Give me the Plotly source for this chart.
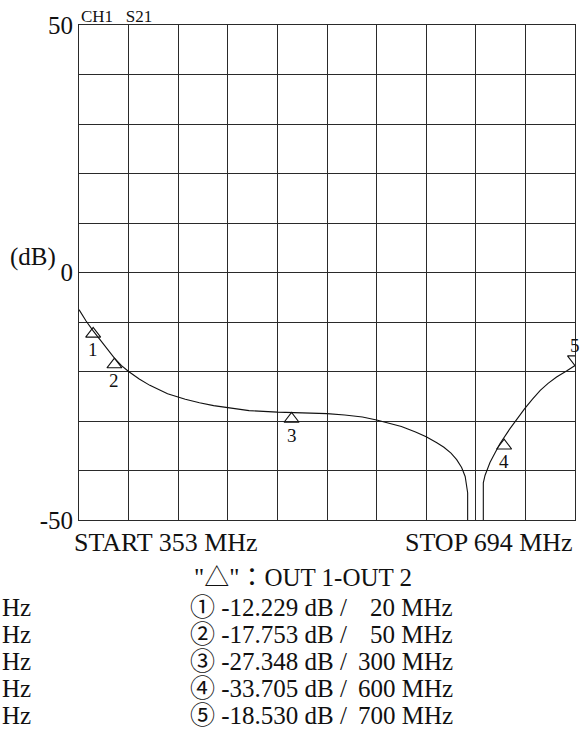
import plotly.graph_objects as go

# ---- data ----
freq_mhz = [0, 10, 20, 30, 40, 50, 60, 70, 85, 100, 125, 150, 170, 190, 210, 240,
            280, 320, 350, 375, 400, 420, 440, 455, 475, 490, 505, 515, 525, 533,
            540, 545, 548.5, 548.5, 570.6, 570.6, 573, 576, 580, 585, 594, 608,
            620, 629, 640, 651, 662, 674, 688, 700]
s21_db = [-7.5, -9.8, -11.8, -13.7, -15.6, -17.3, -18.8, -20.0, -21.5, -22.8, -24.5,
          -25.6, -26.3, -26.9, -27.3, -27.9, -28.2, -28.4, -28.5, -28.8, -29.2,
          -29.8, -30.5, -31.1, -32.2, -33.2, -34.4, -35.3, -36.5, -37.8, -39.4,
          -41.2, -44.5, -60.0, -60.0, -42.5, -41.0, -39.7, -38.4, -37.0, -34.6,
          -31.6, -29.2, -27.5, -25.6, -23.8, -22.4, -21.1, -19.9, -18.8]

marker_ids = ["1", "2", "3", "4", "5"]
marker_freq = [20, 50, 300, 600, 700]
marker_trace_db = [-12.4, -18.6, -29.6, -35.0, -17.5]   # where the triangles sit on screen
marker_readout_db = ["-12.229", "-17.753", "-27.348", "-33.705", "-18.530"]
marker_circled = ["①", "②", "③", "④", "⑤"]
marker_up = [True, True, True, True, False]

y_tick_vals = list(range(-50, 51, 10))
y_tick_text = ["-50", "", "", "", "", "0", "", "", "", "", "50"]
x_tick_vals = list(range(0, 701, 70))

start_label = "START 353 MHz"
stop_label = "STOP 694 MHz"
channel_label = "CH1\u00a0\u00a0\u00a0S21"
header_label = "\"△\"：OUT 1-OUT 2"

# ---- layout helpers (pixel -> paper) ----
W, H = 587, 730
L, R, T, B = 79, 575, 25, 520


def X(px):
    return (px - L) / (R - L)


def Y(py):
    return (B - py) / (B - T)


FONT = "Liberation Serif, Times New Roman, Noto Serif, Noto Sans CJK JP, serif"
INK = "#111111"
GRID = "#2a2a2a"

fig = go.Figure()

fig.add_trace(go.Scatter(
    x=freq_mhz, y=s21_db, mode="lines",
    line=dict(color=INK, width=1.1), hoverinfo="skip", showlegend=False,
))

fig.add_trace(go.Scatter(
    x=marker_freq, y=marker_trace_db, mode="markers",
    marker=dict(
        symbol=["triangle-up-open" if u else "triangle-down-open" for u in marker_up],
        size=13, color=INK, line=dict(color=INK, width=1.1),
    ),
    hoverinfo="skip", showlegend=False,
))

annotations = []
# marker numbers
for mid, f, d, up in zip(marker_ids, marker_freq, marker_trace_db, marker_up):
    annotations.append(dict(
        x=f, y=d, xref="x", yref="y", text=mid, showarrow=False,
        yshift=-16 if up else 14, font=dict(family=FONT, size=19, color=INK),
    ))

# channel label
annotations.append(dict(
    x=X(79), y=Y(17), xref="paper", yref="paper", text=channel_label,
    xanchor="left", yanchor="middle", showarrow=False,
    font=dict(family=FONT, size=17, color=INK),
))
# (dB)
annotations.append(dict(
    x=X(8), y=Y(257), xref="paper", yref="paper", text="(dB)",
    xanchor="left", yanchor="middle", showarrow=False,
    font=dict(family=FONT, size=25, color=INK),
))
# start / stop
annotations.append(dict(
    x=X(72), y=Y(542), xref="paper", yref="paper", text=start_label,
    xanchor="left", yanchor="middle", showarrow=False,
    font=dict(family=FONT, size=26, color=INK),
))
annotations.append(dict(
    x=X(575), y=Y(542), xref="paper", yref="paper", text=stop_label,
    xanchor="right", yanchor="middle", showarrow=False,
    font=dict(family=FONT, size=26, color=INK),
))
# header
annotations.append(dict(
    x=X(192), y=Y(577), xref="paper", yref="paper", text=header_label,
    xanchor="left", yanchor="middle", showarrow=False,
    font=dict(family=FONT, size=25, color=INK),
))
# readout rows
row_y = [607, 634, 661, 688, 715]
for circ, db, f, ry in zip(marker_circled, marker_readout_db, marker_freq, row_y):
    annotations.append(dict(
        x=X(0), y=Y(ry), xref="paper", yref="paper", text="Hz",
        xanchor="left", yanchor="middle", showarrow=False,
        font=dict(family=FONT, size=25, color=INK),
    ))
    annotations.append(dict(
        x=X(188), y=Y(ry), xref="paper", yref="paper",
        text=f"{circ} {db} dB /",
        xanchor="left", yanchor="middle", showarrow=False,
        font=dict(family=FONT, size=25, color=INK),
    ))
    annotations.append(dict(
        x=X(455), y=Y(ry), xref="paper", yref="paper",
        text=f"{f} MHz",
        xanchor="right", yanchor="middle", showarrow=False,
        font=dict(family=FONT, size=25, color=INK),
    ))

fig.update_layout(
    width=W, height=H,
    margin=dict(l=L, r=W - R, t=T, b=H - B, pad=0),
    paper_bgcolor="white", plot_bgcolor="white",
    showlegend=False,
    annotations=annotations,
    xaxis=dict(
        range=[0, 700], tickvals=x_tick_vals, showticklabels=False,
        showgrid=True, gridcolor=GRID, gridwidth=1, zeroline=False,
        showline=True, linecolor=GRID, linewidth=1, mirror=True, ticks="",
        fixedrange=True,
    ),
    yaxis=dict(
        range=[-50, 50], tickvals=y_tick_vals, ticktext=y_tick_text,
        showgrid=True, gridcolor=GRID, gridwidth=1, zeroline=False,
        showline=True, linecolor=GRID, linewidth=1, mirror=True, ticks="",
        tickfont=dict(family=FONT, size=25, color=INK), ticklabelstandoff=0,
        fixedrange=True,
    ),
)

fig.write_html(
    "out.html",
    config={"displayModeBar": False},
    post_script="document.body.style.margin='0';document.body.style.overflow='hidden';",
)
